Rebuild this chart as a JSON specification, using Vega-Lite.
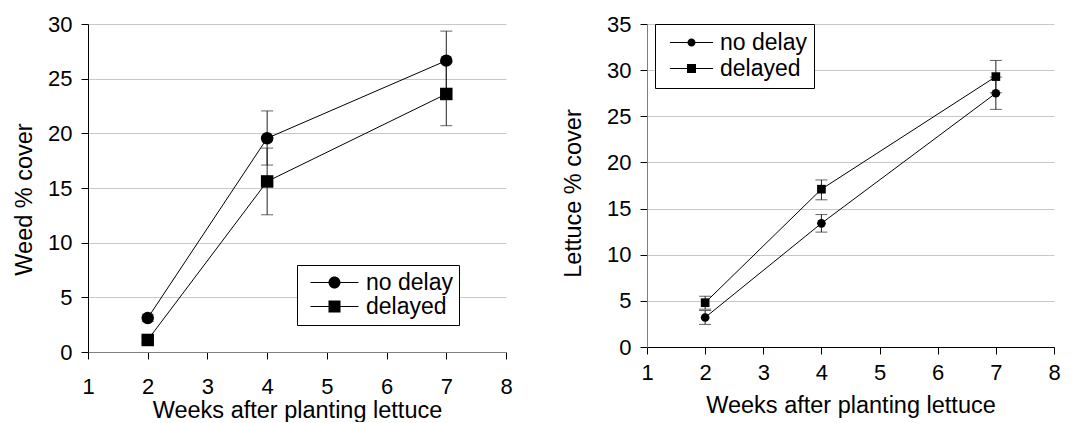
{
  "$schema": "https://vega.github.io/schema/vega-lite/v6.json",
  "background": "white",
  "padding": {"left": 12, "top": 13, "right": 5, "bottom": 0},
  "config": {
    "font": "Liberation Sans",
    "view": {"stroke": null},
    "axis": {
      "labelFont": "Liberation Sans", "titleFont": "Liberation Sans",
      "labelFontSize": 22, "titleFontSize": 23.5, "titleFontWeight": "normal",
      "labelColor": "black", "titleColor": "black",
      "tickColor": "black", "tickSize": 7, "domainColor": "black",
      "gridColor": "#c8c8c8", "labelFlush": false, "labelOverlap": false
    },
    "legend": {"labelFont": "Liberation Sans", "labelFontSize": 23, "labelColor": "black"}
  },
  "datasets": {
    "weed": [
      {"series": "no delay", "week": 2, "cover": 3.1, "lo": 2.8, "hi": 3.45},
      {"series": "no delay", "week": 4, "cover": 19.55, "lo": 17.1, "hi": 22.05},
      {"series": "no delay", "week": 7, "cover": 26.65, "lo": 23.95, "hi": 29.35},
      {"series": "delayed", "week": 2, "cover": 1.1, "lo": 0.8, "hi": 1.4},
      {"series": "delayed", "week": 4, "cover": 15.6, "lo": 12.55, "hi": 18.65},
      {"series": "delayed", "week": 7, "cover": 23.6, "lo": 20.7, "hi": 26.5}
    ],
    "lettuce": [
      {"series": "no delay", "week": 2, "cover": 3.2, "lo": 2.45, "hi": 3.95},
      {"series": "no delay", "week": 4, "cover": 13.4, "lo": 12.45, "hi": 14.35},
      {"series": "no delay", "week": 7, "cover": 27.5, "lo": 25.75, "hi": 29.25},
      {"series": "delayed", "week": 2, "cover": 4.8, "lo": 4.1, "hi": 5.5},
      {"series": "delayed", "week": 4, "cover": 17.1, "lo": 15.95, "hi": 18.1},
      {"series": "delayed", "week": 7, "cover": 29.3, "lo": 27.55, "hi": 31.05}
    ]
  },
  "spacing": 141,
  "bounds": "flush",
  "resolve": {"scale": {"shape": "independent", "x": "independent", "y": "independent"}, "legend": {"shape": "independent"}},
  "hconcat": [
    {
      "width": 418, "height": 328,
      "data": {"name": "weed"},
      "resolve": {"scale": {"shape": "independent"}, "legend": {"shape": "independent"}},
      "encoding": {
        "x": {"field": "week", "type": "quantitative", "scale": {"domain": [1, 8], "nice": false, "zero": false},
              "axis": {"values": [1,2,3,4,5,6,7,8], "format": "d", "grid": false, "title": "Weeks after planting lettuce", "labelPadding": 17, "titlePadding": 1, "domainColor": "#808080"}},
        "y": {"field": "cover", "type": "quantitative", "scale": {"domain": [0, 30], "nice": false},
              "axis": {"values": [0,5,10,15,20,25,30], "format": "d", "grid": true, "title": "Weed % cover", "labelPadding": 9, "titlePadding": 11, "titleY": 175}}
      },
      "layer": [
        {"mark": {"type": "rule", "color": "#222", "strokeWidth": 1}, "encoding": {"y": {"field": "lo", "type": "quantitative"}, "y2": {"field": "hi"}}},
        {"mark": {"type": "tick", "orient": "horizontal", "size": 12, "thickness": 1, "color": "#222"}, "encoding": {"y": {"field": "lo", "type": "quantitative"}}},
        {"mark": {"type": "tick", "orient": "horizontal", "size": 12, "thickness": 1, "color": "#222"}, "encoding": {"y": {"field": "hi", "type": "quantitative"}}},
        {"mark": {"type": "line", "color": "black", "strokeWidth": 1}, "encoding": {"detail": {"field": "series"}}},
        {"mark": {"type": "point", "filled": true, "color": "black", "opacity": 1, "size": 156},
         "encoding": {"shape": {"field": "series", "type": "nominal",
            "scale": {"domain": ["no delay", "delayed"], "range": ["circle", "square"]}, "legend": null}}},
        {"mark": {"type": "point", "filled": true, "color": "black", "opacity": 0, "size": 144},
         "encoding": {"shape": {"field": "series", "type": "nominal",
            "scale": {"domain": ["no delay", "delayed"], "range": [
              "M-4,-0.083H-1V0.083H-4ZM1,0A1,1,0,1,1,-1,0A1,1,0,1,1,1,0ZM1,-0.083H4V0.083H1Z",
              "M-4,-0.083H-1V0.083H-4ZM-1,-1H1V1H-1ZM1,-0.083H4V0.083H1Z"]},
            "legend": {"title": null, "orient": "none", "legendX": 209, "legendY": 241,
              "padding": 6, "fillColor": "white", "strokeColor": "black", "rowPadding": 0,
              "symbolSize": 144, "symbolOffset": 20, "labelOffset": 20,
              "symbolOpacity": 1, "symbolFillColor": "black",
              "encode": {"symbols": {"opacity": {"value": 1}, "fill": {"value": "black"}}}}}}}
      ]
    },
    {
      "width": 407, "height": 323,
      "data": {"name": "lettuce"},
      "resolve": {"scale": {"shape": "independent"}, "legend": {"shape": "independent"}},
      "encoding": {
        "x": {"field": "week", "type": "quantitative", "scale": {"domain": [1, 8], "nice": false, "zero": false},
              "axis": {"values": [1,2,3,4,5,6,7,8], "format": "d", "grid": false, "title": "Weeks after planting lettuce", "labelPadding": 8, "titlePadding": 10}},
        "y": {"field": "cover", "type": "quantitative", "scale": {"domain": [0, 35], "nice": false},
              "axis": {"values": [0,5,10,15,20,25,30,35], "format": "d", "grid": true, "title": "Lettuce % cover", "labelPadding": 9, "titlePadding": 21, "titleY": 169, "domainColor": "#808080"}}
      },
      "layer": [
        {"mark": {"type": "rule", "color": "#222", "strokeWidth": 1}, "encoding": {"y": {"field": "lo", "type": "quantitative"}, "y2": {"field": "hi"}}},
        {"mark": {"type": "tick", "orient": "horizontal", "size": 12, "thickness": 1, "color": "#222"}, "encoding": {"y": {"field": "lo", "type": "quantitative"}}},
        {"mark": {"type": "tick", "orient": "horizontal", "size": 12, "thickness": 1, "color": "#222"}, "encoding": {"y": {"field": "hi", "type": "quantitative"}}},
        {"mark": {"type": "line", "color": "black", "strokeWidth": 1}, "encoding": {"detail": {"field": "series"}}},
        {"mark": {"type": "point", "filled": true, "color": "black", "opacity": 1, "size": 75},
         "encoding": {"shape": {"field": "series", "type": "nominal",
            "scale": {"domain": ["no delay", "delayed"], "range": ["circle", "square"]}, "legend": null}}},
        {"mark": {"type": "point", "filled": true, "color": "black", "opacity": 0, "size": 81},
         "encoding": {"shape": {"field": "series", "type": "nominal",
            "scale": {"domain": ["no delay", "delayed"], "range": [
              "M-4.8,-0.11H-0.9V0.11H-4.8ZM0.9,0A0.9,0.9,0,1,1,-0.9,0A0.9,0.9,0,1,1,0.9,0ZM0.9,-0.11H4.8V0.11H0.9Z",
              "M-4.8,-0.11H-1V0.11H-4.8ZM-1,-1H1V1H-1ZM1,-0.11H4.8V0.11H1Z"]},
            "legend": {"title": null, "orient": "none", "legendX": 8, "legendY": 0,
              "padding": 7, "fillColor": "white", "strokeColor": "black", "rowPadding": 2,
              "symbolSize": 81, "symbolOffset": 18, "labelOffset": 17,
              "symbolOpacity": 1, "symbolFillColor": "black",
              "encode": {"symbols": {"opacity": {"value": 1}, "fill": {"value": "black"}}}}}}}
      ]
    }
  ]
}
